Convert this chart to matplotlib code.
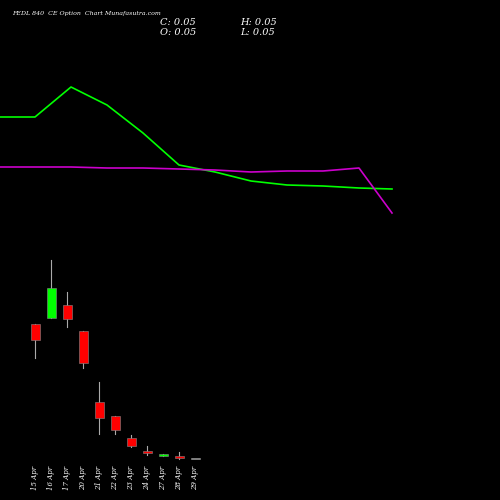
import matplotlib.pyplot as plt

dates = ['15 Apr', '16 Apr', '17 Apr', '20 Apr', '21 Apr', '22 Apr',
         '23 Apr', '24 Apr', '27 Apr', '28 Apr', '29 Apr']
opens = [176, 182, 195, 169, 98, 84, 62, 49, 44, 44, 41]
closes = [160, 212, 181, 137, 82, 70, 54, 47, 46, 42, 41]
highs = [176, 240, 208, 169, 118, 84, 65, 54, 46, 48, 41]
lows = [142, 182, 173, 132, 66, 66, 53, 45, 44, 41, 41]

# upper indicator lines (separate scale)
line_x = [0, 35, 71, 107, 143, 179, 215, 251, 287, 323, 359, 392]
green_line = [383, 383, 413, 395, 367, 335, 328, 319, 315, 314, 312, 311]
purple_line = [333, 333, 333, 332, 332, 331, 330, 328, 329, 329, 332, 287]
candle_x = [35, 51, 67, 83, 99, 115, 131, 147, 163, 179, 195]

fig = plt.figure(figsize=(5, 5), dpi=100, facecolor='black')
ax = fig.add_axes([0, 0, 1, 1])
ax.set_facecolor('black')
ax.set_xlim(0, 500)
ax.set_ylim(0, 500)
ax.axis('off')

ax.plot(line_x, green_line, color='#00ff00', lw=1.2)
ax.plot(line_x, purple_line, color='#cc00cc', lw=1.2)

for x, o, c, h, l in zip(candle_x, opens, closes, highs, lows):
    if c > o:
        col = '#00ff00'
    elif c < o:
        col = '#ff0000'
    else:
        col = '#dddddd'
    ax.plot([x, x], [l, h], color='#aaaaaa', lw=0.8, zorder=1)
    hgt = max(abs(c - o), 1.5)
    ax.bar(x, hgt, bottom=min(o, c), width=9, color=col,
           edgecolor='#888888', linewidth=0.4, zorder=2)

for x, d in zip(candle_x, dates):
    ax.text(x, 22, d, rotation=90, color='white', fontsize=5,
            ha='center', va='center', family='DejaVu Serif', style='italic')

ax.text(12, 487, 'FEDL 840  CE Option  Chart Munafasutra.com', color='white',
        fontsize=4.5, family='DejaVu Serif', style='italic', va='center')
ax.text(160, 475, 'C: 0.05', color='white', fontsize=7, family='DejaVu Serif', style='italic')
ax.text(160, 465, 'O: 0.05', color='white', fontsize=7, family='DejaVu Serif', style='italic')
ax.text(240, 475, 'H: 0.05', color='white', fontsize=7, family='DejaVu Serif', style='italic')
ax.text(240, 465, 'L: 0.05', color='white', fontsize=7, family='DejaVu Serif', style='italic')

fig.savefig('out.png', facecolor='black')
